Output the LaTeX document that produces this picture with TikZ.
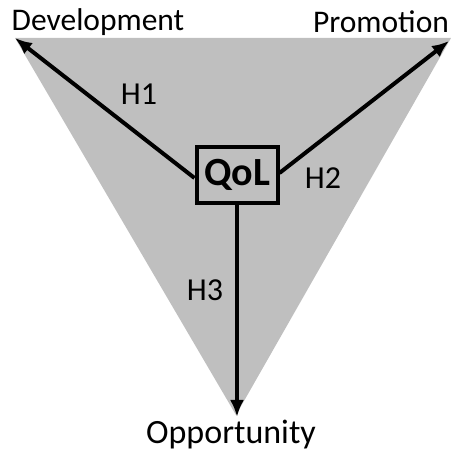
\documentclass[tikz,border=0pt]{standalone}
\usepackage{fontspec}
\setmainfont{Carlito}
\usetikzlibrary{arrows.meta}
\tikzset{
  lbl/.style={font=\fontsize{31.5}{33}\selectfont},
  hyp/.style={font=\fontsize{32}{34}\selectfont},
  link/.style={line width=4pt,-{Latex[length=17pt,width=14pt]}}
}
\begin{document}
\begin{tikzpicture}[x=1pt,y=1pt]
\useasboundingbox (0,0) rectangle (451,451);
\coordinate (tl) at (15,413);
\coordinate (tr) at (451,413);
\coordinate (bt) at (236,36);
\fill[black!25] (tl) -- (tr) -- (bt) -- cycle;
\node[draw,line width=4pt,minimum width=81pt,minimum height=56pt,inner sep=0pt,font=\fontsize{40}{42}\selectfont\bfseries] (qol) at (237,276) {QoL};
\coordinate (dv) at (15,413);
\coordinate (pr) at (449,410);
\coordinate (op) at (237,34);
\draw[link] (qol.west) ++(0,-3) -- (dv);
\draw[link] (qol.east) ++(0,2) -- (pr);
\draw[link] (qol.south) -- (op);
\node[lbl] (dev) at (98,429) {Development};
\node[lbl] (pro) at (381,429) {Promotion};
\node[font=\fontsize{34}{36}\selectfont] (opp) at (231,16) {Opportunity};
\node[hyp] (h1) at (139,357) {H1};
\node[hyp] (h2) at (323,273) {H2};
\node[hyp] (h3) at (205,161) {H3};
\end{tikzpicture}
\end{document}
